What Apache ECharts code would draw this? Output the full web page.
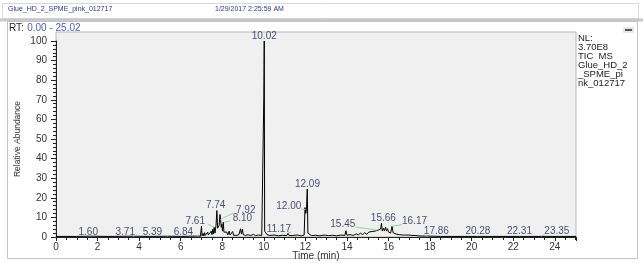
<!DOCTYPE html>
<html>
<head>
<meta charset="utf-8">
<script src="https://cdn.jsdelivr.net/npm/echarts@6/dist/echarts.min.js"></script>
<style>
  html, body { margin: 0; padding: 0; background: #fff; }
  #chart { width: 643px; height: 263px; }
</style>
</head>
<body>
<div id="chart"></div>
<script>
// chromatogram trace: [time (min), relative abundance]
const trace = [
  [0, 0.3], [1.0, 0.3], [1.6, 0.4], [2.5, 0.3], [3.71, 0.4], [4.5, 0.3], [5.39, 0.4], [6.0, 0.3],
  [6.84, 0.5], [6.95, 0.4], [7.0, 5.5], [7.03, 0.6], [7.08, 1.8], [7.11, 0.6], [7.15, 2.2], [7.18, 0.8],
  [7.22, 1.5], [7.26, 0.7], [7.3, 2.5], [7.33, 1.0], [7.38, 1.8], [7.42, 0.8], [7.47, 3.0], [7.5, 1.2],
  [7.55, 4.0], [7.58, 1.5], [7.61, 5.0], [7.65, 2.0], [7.7, 6.0], [7.74, 13.5], [7.78, 4.5], [7.82, 3.5],
  [7.85, 6.0], [7.89, 11.5], [7.92, 9.0], [7.95, 5.0], [7.98, 6.5], [8.01, 3.0], [8.05, 7.5], [8.08, 2.5],
  [8.12, 3.5], [8.16, 1.5], [8.22, 2.5], [8.26, 1.0], [8.33, 3.0], [8.37, 1.0], [8.45, 1.5], [8.5, 2.8],
  [8.54, 0.9], [8.62, 1.5], [8.7, 0.8], [8.8, 1.2], [8.88, 4.2], [8.92, 1.5], [8.97, 4.0], [9.01, 1.2],
  [9.06, 2.0], [9.12, 0.8], [9.25, 1.2], [9.35, 0.7], [9.5, 1.3], [9.6, 0.7], [9.75, 1.0], [9.9, 0.8],
  [9.98, 1.0], [10.0, 72], [10.02, 100], [10.04, 3.0], [10.08, 2.0], [10.15, 1.2], [10.3, 0.8], [10.5, 1.0],
  [10.7, 0.6], [10.9, 0.9], [11.1, 0.7], [11.17, 2.0], [11.22, 0.7], [11.4, 0.8], [11.6, 1.0], [11.8, 0.6],
  [11.94, 1.0], [11.98, 15], [12.02, 12], [12.05, 14], [12.09, 24.5], [12.12, 2.0], [12.18, 1.0], [12.3, 0.7],
  [12.5, 0.9], [12.7, 0.6], [12.9, 1.0], [13.1, 0.7], [13.3, 0.9], [13.5, 0.6], [13.7, 1.0], [13.9, 0.8],
  [13.95, 3.2], [14.0, 0.9], [14.15, 1.2], [14.3, 0.8], [14.45, 1.6], [14.55, 1.0], [14.65, 2.0], [14.75, 1.2],
  [14.85, 2.2], [14.95, 1.4], [15.05, 2.5], [15.12, 1.6], [15.2, 2.8], [15.28, 1.8], [15.35, 3.0], [15.42, 2.2],
  [15.5, 3.5], [15.56, 2.5], [15.62, 4.0], [15.66, 7.0], [15.7, 3.0], [15.76, 4.5], [15.8, 3.2], [15.86, 5.0],
  [15.9, 3.0], [15.95, 4.2], [16.0, 2.5], [16.06, 3.5], [16.1, 2.0], [16.17, 5.5], [16.22, 2.2], [16.3, 3.0],
  [16.36, 1.5], [16.45, 2.2], [16.52, 1.2], [16.6, 2.0], [16.68, 1.0], [16.75, 1.8], [16.82, 1.0], [16.9, 2.0],
  [16.98, 1.0], [17.05, 1.6], [17.12, 0.8], [17.2, 1.5], [17.28, 0.8], [17.35, 1.3], [17.45, 0.6], [17.6, 0.5],
  [17.86, 0.5], [18.5, 0.3], [20.28, 0.3], [22.31, 0.3], [23.35, 0.3], [25.02, 0.3]
];

// peak annotations: [text, label time, label abundance, leader target abundance or null]
const peakLabels = [
  ['1.60', 1.55, 2.6, null],
  ['3.71', 3.33, 2.6, 0.5],
  ['5.39', 4.64, 2.6, 0.5],
  ['6.84', 6.13, 2.6, 0.6],
  ['7.61', 6.7, 8.0, 5.0],
  ['7.74', 7.68, 16.0, null],
  ['7.92', 9.13, 13.8, 9.0],
  ['8.10', 8.97, 9.7, 7.5],
  ['10.02', 10.02, 102.5, null],
  ['11.17', 10.72, 4.0, 2.0],
  ['12.00', 11.2, 15.8, 14.0],
  ['12.09', 12.1, 27.0, null],
  ['15.45', 13.8, 6.6, 3.5],
  ['15.66', 15.75, 9.7, null],
  ['16.17', 17.25, 7.8, 5.5],
  ['17.86', 18.3, 2.7, 0.5],
  ['20.28', 20.3, 2.7, null],
  ['22.31', 22.3, 2.7, null],
  ['23.35', 24.1, 2.7, 0.5]
];

const infoLines = ['NL:', '3.70E8', 'TIC  MS', 'Glue_HD_2', '_SPME_pi', 'nk_012717'];

const leaders = peakLabels.filter(p => p[3] !== null).map(p => {
  const rt = parseFloat(p[0]);
  const side = rt > p[1] ? 0.6 : -0.6;
  return [{ coord: [p[1] + side, p[2] - 1.5] }, { coord: [rt, p[3]] }];
});

const chart = echarts.init(document.getElementById('chart'));
const font = 'Liberation Sans, Arial, sans-serif';

chart.setOption({
  animation: false,
  backgroundColor: '#fff',
  textStyle: { fontFamily: font },
  grid: { left: 56, right: 67, top: 41, bottom: 26, containLabel: false, outerBoundsMode: 'none' },
  xAxis: {
    type: 'value', min: 0, max: 25.02, interval: 2,
    name: 'Time (min)', nameLocation: 'middle', nameGap: 14, nameMoveOverlap: false,
    nameTextStyle: { fontSize: 10, color: '#333', fontFamily: font, verticalAlign: 'top' },
    axisLine: { lineStyle: { color: '#222', width: 1 } },
    axisTick: { length: 4, lineStyle: { color: '#222' } },
    minorTick: { show: true, splitNumber: 4, length: 3, lineStyle: { color: '#222' } },
    axisLabel: { fontSize: 10, color: '#333', margin: 5, showMaxLabel: false, fontFamily: font },
    splitLine: { show: false }
  },
  yAxis: {
    type: 'value', min: 0, max: 100, interval: 10,
    name: 'Relative Abundance', nameLocation: 'middle', nameGap: 34, nameRotate: 90, nameMoveOverlap: false,
    nameTextStyle: { fontSize: 8.5, color: '#333', fontFamily: font },
    axisLine: { show: true, lineStyle: { color: '#222', width: 1 } },
    axisTick: { show: true, length: 5, lineStyle: { color: '#222' } },
    minorTick: { show: true, splitNumber: 5, length: 3, lineStyle: { color: '#222' } },
    axisLabel: { fontSize: 10, color: '#333', margin: 9, fontFamily: font },
    splitLine: { show: false }
  },
  graphic: [
    { type: 'rect', z: -10, shape: { x: 56, y: 32, width: 520, height: 205 },
      style: { fill: '#f0f0f0', stroke: '#b8b8b8', lineWidth: 1 } },
    { type: 'rect', z: -20, shape: { x: 2.5, y: 3.5, width: 636, height: 15 },
      style: { fill: '#fff', stroke: '#d8d8d8', lineWidth: 1 } },
    { type: 'rect', z: -20, shape: { x: 0, y: 18.5, width: 643, height: 3 },
      style: { fill: '#c8c8c8' } },
    { type: 'rect', z: -20, shape: { x: 7.5, y: 21.5, width: 630, height: 237 },
      style: { fill: 'none', stroke: '#c4c4c4', lineWidth: 1 } },
    { type: 'text', left: 8, top: 6,
      style: { text: 'Glue_HD_2_SPME_pink_012717', font: '7px ' + font, fill: '#2a3a9a' } },
    { type: 'text', left: 215, top: 6,
      style: { text: '1/29/2017 2:25:59 AM', font: '7px ' + font, fill: '#2a3a9a' } },
    { type: 'text', left: 9, top: 22,
      style: { text: '{a|RT:} {b|0.00 - 25.02}', rich: {
        a: { fontSize: 10, fill: '#222', fontFamily: font },
        b: { fontSize: 10, fill: '#4a63c8', fontFamily: font } } } },
    { type: 'rect', shape: { x: 623, y: 27, width: 11, height: 6 },
      style: { fill: '#e6e6e6' } },
    { type: 'rect', shape: { x: 625, y: 29, width: 7, height: 2 },
      style: { fill: '#555' } },
    { type: 'text', left: 578, top: 33,
      style: { text: infoLines.join('\n'), font: '9.5px ' + font, fill: '#222', lineHeight: 9 } }
  ],
  series: [
    {
      type: 'line', data: trace, symbol: 'none', z: 3,
      lineStyle: { color: '#000', width: 1 }
    },
    {
      type: 'scatter', clip: false, symbolSize: 0, z: 4,
      data: peakLabels.map(p => ({ name: p[0], value: [p[1], p[2]] })),
      label: {
        show: true, position: 'inside', formatter: '{b}',
        fontSize: 10, color: '#1a1f45', fontFamily: font
      },
      markLine: {
        silent: true, symbol: 'none', animation: false,
        lineStyle: { color: '#9ed29e', width: 1, type: 'solid' },
        label: { show: false },
        data: leaders
      }
    }
  ]
});
</script>
</body>
</html>
